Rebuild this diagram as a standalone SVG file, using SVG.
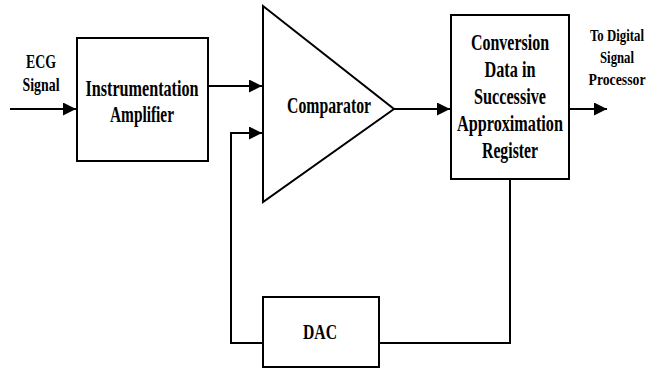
<svg xmlns="http://www.w3.org/2000/svg" width="649" height="369" viewBox="0 0 649 369">
<style>
.box{fill:#fff;stroke:#000;stroke-width:2}
.ln{fill:none;stroke:#000;stroke-width:2}
.t{font-family:"Liberation Serif","Times New Roman",serif;font-weight:bold;fill:#000;text-anchor:middle}
.m{font-size:23px}
.s{font-size:19px}
</style>
<defs>
<marker id="ah" markerUnits="userSpaceOnUse" markerWidth="14" markerHeight="13" refX="13" refY="6.5" orient="auto">
<path d="M0,0 L13,6.5 L0,13 Z" fill="#000"/>
</marker>
</defs>
<rect width="649" height="369" fill="#fff"/>
<g id="connectors">
<path class="ln" d="M10,109 H76" marker-end="url(#ah)"/>
<path class="ln" d="M208,86 H262" marker-end="url(#ah)"/>
<path class="ln" d="M394,109 H450" marker-end="url(#ah)"/>
<path class="ln" d="M569,109 H607" marker-end="url(#ah)"/>
<path class="ln" d="M510,179 V343 H379"/>
<path class="ln" d="M263,343 H231 V133 H262" marker-end="url(#ah)"/>
</g>
<g id="ecg-label">
<text class="t s" x="41" y="68" textLength="30" lengthAdjust="spacingAndGlyphs">ECG</text>
<text class="t s" x="41" y="91" textLength="37" lengthAdjust="spacingAndGlyphs">Signal</text>
</g>
<g id="amplifier">
<rect class="box" x="77" y="38" width="131" height="123"/>
<text class="t m" x="142" y="95.5" textLength="113" lengthAdjust="spacingAndGlyphs">Instrumentation</text>
<text class="t m" x="142" y="121.5" textLength="64" lengthAdjust="spacingAndGlyphs">Amplifier</text>
</g>
<g id="comparator">
<polygon class="box" points="263,6 394,109 263,202"/>
<text class="t m" x="329" y="112.5" textLength="84" lengthAdjust="spacingAndGlyphs">Comparator</text>
</g>
<g id="sar">
<rect class="box" x="451" y="15" width="118" height="164"/>
<text class="t m" x="510" y="49.5" textLength="78" lengthAdjust="spacingAndGlyphs">Conversion</text>
<text class="t m" x="510" y="76.5" textLength="51" lengthAdjust="spacingAndGlyphs">Data in</text>
<text class="t m" x="510" y="103.5" textLength="72" lengthAdjust="spacingAndGlyphs">Successive</text>
<text class="t m" x="510" y="130.5" textLength="106" lengthAdjust="spacingAndGlyphs">Approximation</text>
<text class="t m" x="510" y="157.5" textLength="56" lengthAdjust="spacingAndGlyphs">Register</text>
</g>
<g id="output-label">
<text class="t" font-size="17" x="617" y="40.5" textLength="54" lengthAdjust="spacingAndGlyphs">To Digital</text>
<text class="t" font-size="17" x="617" y="62.5" textLength="34" lengthAdjust="spacingAndGlyphs">Signal</text>
<text class="t" font-size="17" x="617" y="84.5" textLength="57" lengthAdjust="spacingAndGlyphs">Processor</text>
</g>
<g id="dac">
<rect class="box" x="263" y="297" width="116" height="70"/>
<text class="t" font-size="21" x="320" y="338.5" textLength="34" lengthAdjust="spacingAndGlyphs">DAC</text>
</g>
</svg>
